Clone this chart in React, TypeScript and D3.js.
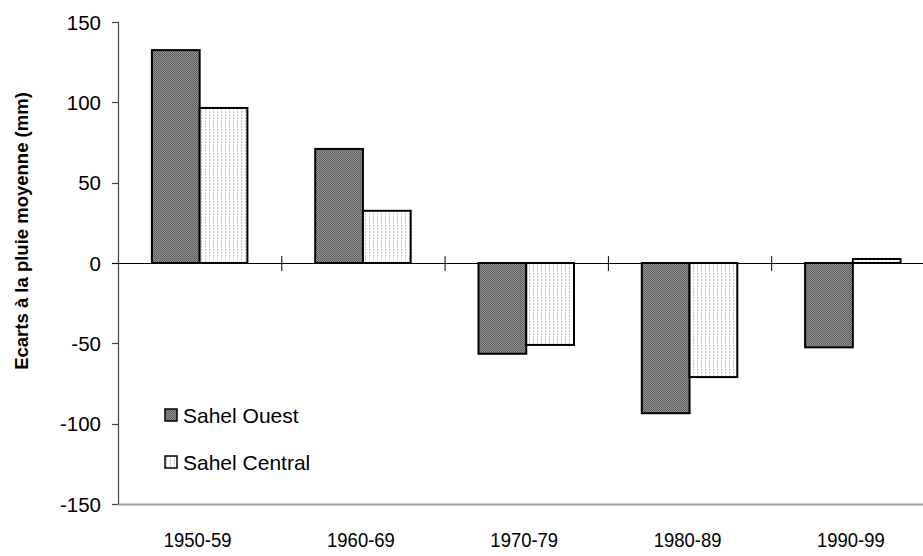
import React from "react";
import * as d3 from "d3";

const categories = ["1950-59", "1960-69", "1970-79", "1980-89", "1990-99"];
const seriesNames = ["Sahel Ouest", "Sahel Central"];
const sahelOuest = [132.5, 71, -56.5, -93.5, -52.5];
const sahelCentral = [96.5, 32.5, -51, -71, 2.5];
const yTicks = [150, 100, 50, 0, -50, -100, -150];

const W = 923;
const H = 556;
const left = 118;
const top = 22;
const bottom = 504;
const step = 163.3;

export default function App() {
  const x0 = d3
    .scaleBand<string>()
    .domain(categories)
    .range([left, left + step * categories.length])
    .padding(0);
  const x1 = d3
    .scaleBand<string>()
    .domain(seriesNames)
    .range([0, x0.bandwidth()])
    .paddingInner(0)
    .paddingOuter(0.71);
  const y = d3.scaleLinear().domain([-150, 150]).range([bottom, top]);
  const seriesData = [sahelOuest, sahelCentral];
  const fills = ["url(#darkPat)", "url(#lightPat)"];
  const font = "Liberation Sans, Arial, sans-serif";

  return (
    <svg
      width={W}
      height={H}
      style={{ position: "absolute", left: 0, top: 0, background: "#fff" }}
    >
      <defs>
        <pattern id="darkPat" width="2" height="2" patternUnits="userSpaceOnUse">
          <rect width="2" height="2" fill="#929292" />
          <rect width="1" height="1" fill="#5a5a5a" />
          <rect x="1" y="1" width="1" height="1" fill="#626262" />
        </pattern>
        <pattern id="lightPat" width="4" height="3" patternUnits="userSpaceOnUse">
          <rect width="4" height="3" fill="#fff" />
          <rect x="1" y="0" width="1" height="2" fill="#c4c4c4" />
        </pattern>
      </defs>

      {/* bottom border */}
      <line x1={left} x2={W} y1={bottom + 0.5} y2={bottom + 0.5} stroke="#999" strokeWidth={2} />

      {/* y axis */}
      <line x1={left + 0.5} x2={left + 0.5} y1={top} y2={bottom} stroke="#444" strokeWidth={1.2} />
      {yTicks.map((t) => (
        <g key={t}>
          <line x1={left - 6} x2={left} y1={Math.round(y(t)) + 0.5} y2={Math.round(y(t)) + 0.5} stroke="#444" strokeWidth={1.2} />
          <text
            x={101}
            y={y(t)}
            textAnchor="end"
            dominantBaseline="central"
            fontFamily={font}
            fontSize={20.5}
            fill="#000"
          >
            {t}
          </text>
        </g>
      ))}

      {/* bars */}
      {categories.map((c, i) => (
        <g key={c}>
          {seriesNames.map((s, j) => {
            const v = seriesData[j][i];
            const bx = (x0(c) as number) + (x1(s) as number);
            const by = y(Math.max(0, v));
            const bh = Math.abs(y(v) - y(0));
            return (
              <rect
                key={s}
                x={bx}
                y={by}
                width={x1.bandwidth()}
                height={bh}
                fill={fills[j]}
                stroke="#000"
                strokeWidth={2}
              />
            );
          })}
        </g>
      ))}

      {/* zero line */}
      <line x1={left - 6} x2={W} y1={Math.round(y(0)) + 0.5} y2={Math.round(y(0)) + 0.5} stroke="#000" strokeWidth={1} />
      {categories.slice(1).map((c) => (
        <line
          key={c}
          x1={(x0(c) as number) + 0.5}
          x2={(x0(c) as number) + 0.5}
          y1={y(0) - 7}
          y2={y(0) + 8}
          stroke="#000"
          strokeWidth={1}
        />
      ))}

      {/* x labels */}
      {categories.map((c) => (
        <text
          key={c}
          transform={`translate(${(x0(c) as number) + x0.bandwidth() / 2 - 2},540) scale(0.88,1)`}
          textAnchor="middle"
          dominantBaseline="central"
          fontFamily={font}
          fontSize={21}
          fill="#000"
        >
          {c}
        </text>
      ))}

      {/* y title */}
      <text
        transform={`translate(28,231) rotate(-90)`}
        textAnchor="middle"
        fontFamily={font}
        fontSize={18.5}
        fontWeight="bold"
        fill="#000"
      >
        Ecarts à la pluie moyenne (mm)
      </text>

      {/* legend */}
      {seriesNames.map((s, j) => (
        <g key={s} transform={`translate(165,${409 + j * 47})`}>
          <rect x={0} y={0} width={12} height={12} fill={fills[j]} stroke="#000" strokeWidth={1.5} />
          <text
            x={18}
            y={6}
            dominantBaseline="central"
            fontFamily={font}
            fontSize={21}
            fill="#000"
          >
            {s}
          </text>
        </g>
      ))}
    </svg>
  );
}
